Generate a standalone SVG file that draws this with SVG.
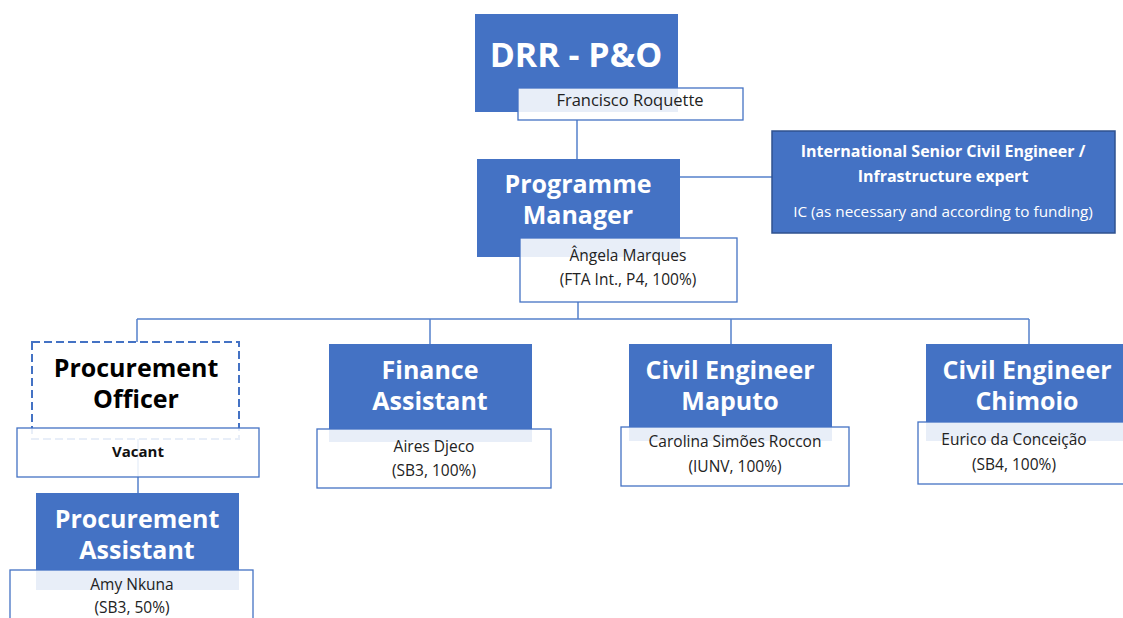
<svg xmlns="http://www.w3.org/2000/svg" width="1123" height="618" viewBox="0 0 1123 618">
<style>
.blue{fill:#4472C4;}
.sub{fill:#ffffff;fill-opacity:0.88;stroke:#4472C4;stroke-width:1.3;}
.title{font-family:"Open Sans","Liberation Sans",sans-serif;font-weight:bold;font-size:25px;fill:#ffffff;text-anchor:middle;}
.dark{fill:#000000;}
.small{font-family:"Open Sans","Liberation Sans",sans-serif;font-size:15.5px;fill:#222222;text-anchor:middle;}
.conn{stroke:#5580CB;stroke-width:1.5;fill:none;}
</style>
<rect width="1123" height="618" fill="#ffffff"/>
<g id="connectors">
<path class="conn" d="M577 120 V159"/>
<path class="conn" d="M680 177 H772"/>
<path class="conn" d="M578 302 V319"/>
<path class="conn" d="M137 319 H1029"/>
<path class="conn" d="M137 319 V342"/>
<path class="conn" d="M430 319 V344"/>
<path class="conn" d="M731 319 V344"/>
<path class="conn" d="M1029 319 V344"/>
<path class="conn" d="M138 439 V493"/>
</g>
<g id="drr">
<rect class="blue" x="475" y="14" width="203" height="98"/>
<text class="title" x="576" y="67" style="font-size:34px">DRR - P&amp;O</text>
<rect class="sub" x="518" y="88" width="225" height="32"/>
<text class="small" x="630" y="106" style="font-size:16.5px">Francisco Roquette</text>
</g>
<g id="pm">
<rect class="blue" x="477" y="159" width="203" height="98"/>
<text class="title" x="578" y="193">Programme</text>
<text class="title" x="578" y="224">Manager</text>
<rect class="sub" x="520" y="238" width="217" height="64"/>
<text class="small" x="628" y="261">Ângela Marques</text>
<text class="small" x="628" y="285">(FTA Int., P4, 100%)</text>
</g>
<g id="ic">
<rect x="772" y="131" width="343" height="102" fill="#4472C4" stroke="#2F528F" stroke-width="1.5"/>
<text class="title" x="943" y="157" style="font-size:16px">International Senior Civil Engineer /</text>
<text class="title" x="943" y="182" style="font-size:16px">Infrastructure expert</text>
<text x="943" y="217" style="font-family:'Open Sans','Liberation Sans',sans-serif;font-size:15.3px;fill:#ffffff;text-anchor:middle">IC (as necessary and according to funding)</text>
</g>
<g id="procurement-officer">
<rect x="32" y="342" width="207" height="97" fill="#ffffff" stroke="#4472C4" stroke-width="2" stroke-dasharray="8 4"/>
<text class="title dark" x="136" y="377">Procurement</text>
<text class="title dark" x="136" y="408">Officer</text>
<rect class="sub" x="17" y="428" width="242" height="49"/>
<text class="small" x="138" y="457" style="font-weight:bold;font-size:15px;fill:#111">Vacant</text>
</g>
<g id="finance">
<rect class="blue" x="329" y="344" width="203" height="98"/>
<text class="title" x="430" y="379">Finance</text>
<text class="title" x="430" y="410">Assistant</text>
<rect class="sub" x="317" y="429" width="234" height="59"/>
<text class="small" x="434" y="452">Aires Djeco</text>
<text class="small" x="434" y="476">(SB3, 100%)</text>
</g>
<g id="maputo">
<rect class="blue" x="629" y="344" width="203" height="97"/>
<text class="title" x="730" y="379">Civil Engineer</text>
<text class="title" x="730" y="410">Maputo</text>
<rect class="sub" x="621" y="427" width="228" height="59"/>
<text class="small" x="735" y="447">Carolina Simões Roccon</text>
<text class="small" x="735" y="472">(IUNV, 100%)</text>
</g>
<g id="chimoio">
<rect class="blue" x="926" y="344" width="197" height="97"/>
<text class="title" x="1027" y="379">Civil Engineer</text>
<text class="title" x="1027" y="410">Chimoio</text>
<rect class="sub" x="918" y="422" width="215" height="62"/>
<text class="small" x="1014" y="445">Eurico da Conceição</text>
<text class="small" x="1014" y="470">(SB4, 100%)</text>
</g>
<g id="procurement-assistant">
<rect class="blue" x="36" y="493" width="203" height="97"/>
<text class="title" x="137" y="528">Procurement</text>
<text class="title" x="137" y="559">Assistant</text>
<rect class="sub" x="10" y="570" width="243" height="60"/>
<text class="small" x="132" y="590">Amy Nkuna</text>
<text class="small" x="132" y="613">(SB3, 50%)</text>
</g>
</svg>
